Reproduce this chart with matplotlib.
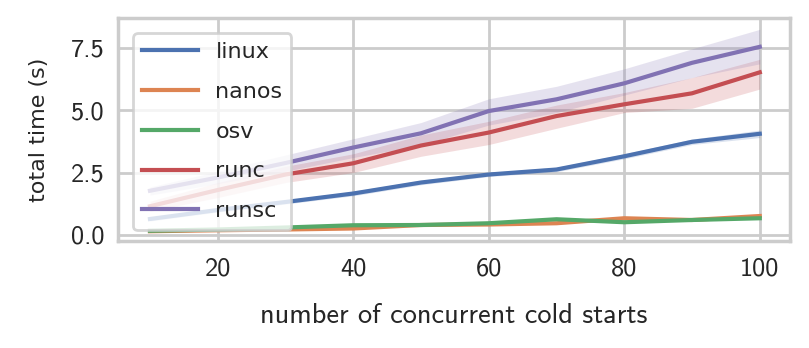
import matplotlib
matplotlib.use("Agg")
import matplotlib.pyplot as plt
from matplotlib.ticker import MultipleLocator

x = [10, 20, 30, 40, 50, 60, 70, 80, 90, 100]

linux = [0.64, 1.00, 1.32, 1.66, 2.10, 2.42, 2.62, 3.15, 3.73, 4.05]
linux_lo = [0.56, 0.92, 1.24, 1.57, 2.01, 2.34, 2.53, 3.05, 3.62, 3.90]
linux_hi = [0.72, 1.08, 1.40, 1.75, 2.19, 2.50, 2.71, 3.25, 3.84, 4.20]

nanos = [0.15, 0.19, 0.22, 0.26, 0.40, 0.42, 0.47, 0.67, 0.60, 0.76]
nanos_lo = [0.13, 0.17, 0.20, 0.24, 0.37, 0.39, 0.44, 0.63, 0.57, 0.72]
nanos_hi = [0.17, 0.21, 0.24, 0.28, 0.43, 0.45, 0.50, 0.71, 0.63, 0.80]

osv = [0.17, 0.22, 0.30, 0.39, 0.40, 0.47, 0.63, 0.51, 0.60, 0.67]
osv_lo = [0.15, 0.20, 0.28, 0.37, 0.38, 0.45, 0.60, 0.49, 0.58, 0.65]
osv_hi = [0.19, 0.24, 0.32, 0.41, 0.42, 0.49, 0.66, 0.53, 0.62, 0.69]

runc = [1.15, 1.80, 2.42, 2.87, 3.58, 4.10, 4.76, 5.23, 5.67, 6.51]
runc_lo = [0.95, 1.50, 2.10, 2.50, 3.15, 3.62, 4.27, 4.90, 5.07, 5.84]
runc_hi = [1.35, 2.10, 2.75, 3.25, 4.00, 4.55, 5.20, 5.70, 6.30, 7.03]

runsc = [1.77, 2.30, 2.88, 3.50, 4.07, 4.96, 5.43, 6.07, 6.89, 7.53]
runsc_lo = [1.60, 2.05, 2.55, 3.10, 3.60, 4.40, 4.90, 5.60, 6.30, 6.85]
runsc_hi = [1.92, 2.55, 3.20, 3.85, 4.50, 5.45, 5.95, 6.65, 7.45, 8.23]

labels = ["linux", "nanos", "osv", "runc", "runsc"]
colors = ["#4c72b0", "#dd8452", "#55a868", "#c44e52", "#8172b3"]

plt.rcParams["font.family"] = ["cmss10", "DejaVu Sans"]

fig = plt.figure(figsize=(8.09 / 2, 3.48 / 2), dpi=200)
ax = fig.add_axes([0.146, 0.3075, 0.830, 0.6405])

series = [(linux, linux_lo, linux_hi), (nanos, nanos_lo, nanos_hi), (osv, osv_lo, osv_hi),
          (runc, runc_lo, runc_hi), (runsc, runsc_lo, runsc_hi)]
for (m, lo, hi), lab, c in zip(series, labels, colors):
    ax.fill_between(x, lo, hi, color=c, alpha=0.2, linewidth=0)
    ax.plot(x, m, color=c, lw=1.5, label=lab)

ax.set_xlim(5.3, 104.4)
ax.set_ylim(-0.24, 8.68)
ax.xaxis.set_major_locator(MultipleLocator(20))
ax.yaxis.set_major_locator(MultipleLocator(2.5))
ax.tick_params(axis="x", length=0, labelsize=9.5, pad=5.8, colors="#262626")
ax.tick_params(axis="y", length=0, labelsize=9.5, pad=5.0, colors="#262626")
ax.grid(True, color="#cccccc", lw=1.0)
ax.set_axisbelow(True)
for s in ax.spines.values():
    s.set_color("#cccccc")
    s.set_linewidth(1.25)

ax.set_xlabel("number of concurrent cold starts", fontsize=10.2, color="#262626", labelpad=8.3)
ax.set_ylabel("total time (s)", fontsize=8, color="#262626", labelpad=7.6,
              family=["DejaVu Sans"])

leg = ax.legend(loc="upper left", frameon=True, framealpha=0.8,
                prop={"family": ["DejaVu Sans"], "size": 8},
                edgecolor="#cccccc", fancybox=True, labelspacing=0.89, handlelength=2.5,
                borderaxespad=0.68)
for t in leg.get_texts():
    t.set_color("#262626")

fig.savefig("out.png", dpi=200, facecolor="white")
